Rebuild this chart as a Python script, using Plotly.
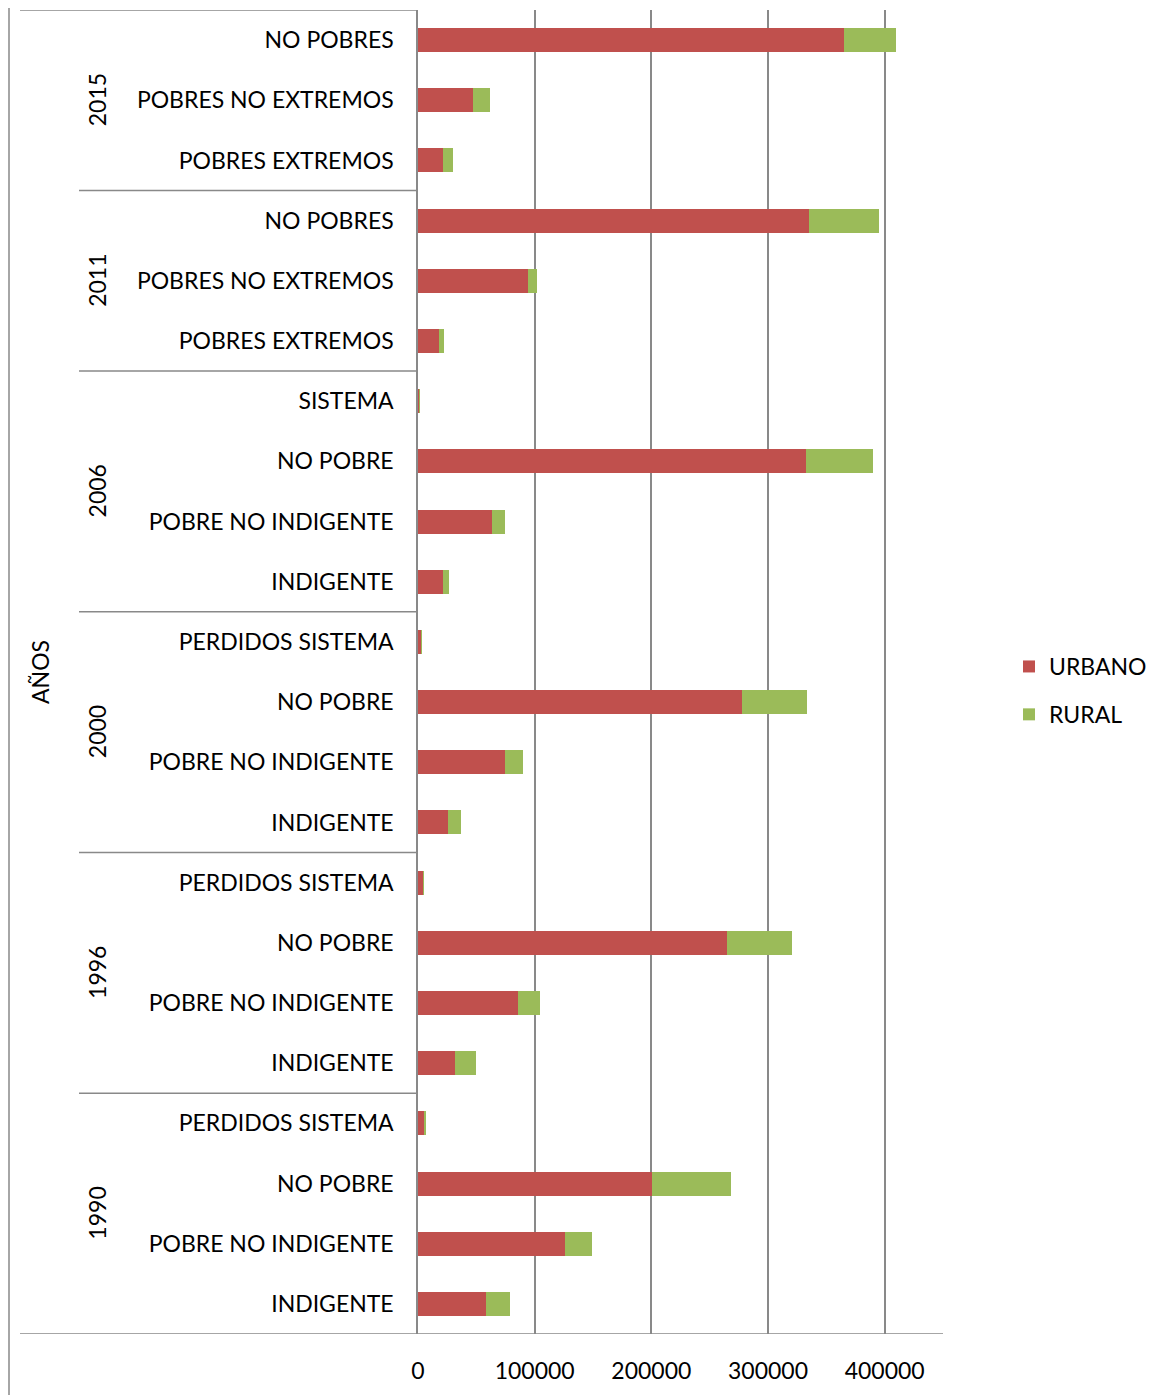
import plotly.graph_objects as go

# Data (bottom to top, as drawn)
years = ["1990", "1996", "2000", "2006", "2011", "2015"]
group_labels = [
    ["INDIGENTE", "POBRE NO INDIGENTE", "NO POBRE", "PERDIDOS SISTEMA"],
    ["INDIGENTE", "POBRE NO INDIGENTE", "NO POBRE", "PERDIDOS SISTEMA"],
    ["INDIGENTE", "POBRE NO INDIGENTE", "NO POBRE", "PERDIDOS SISTEMA"],
    ["INDIGENTE", "POBRE NO INDIGENTE", "NO POBRE", "SISTEMA"],
    ["POBRES EXTREMOS", "POBRES NO EXTREMOS", "NO POBRES"],
    ["POBRES EXTREMOS", "POBRES NO EXTREMOS", "NO POBRES"],
]
urbano = [
    58000, 125900, 200300, 5400,
    31700, 85400, 264900, 4300,
    26000, 74500, 277500, 2700,
    21700, 63700, 332300, 1300,
    18000, 94200, 334900,
    21400, 47100, 364900,
]
rural = [
    20500, 23100, 67700, 1100,
    17700, 19300, 56000, 300,
    10800, 15200, 56300, 300,
    4600, 10800, 57700, 200,
    4300, 7700, 60600,
    8600, 14600, 45100,
]
x_ticks = [0, 100000, 200000, 300000, 400000]
axis_title = "AÑOS"

# layout constants (reference-page pixels; page body has an 8px margin)
OFF = 8
W, H = 1159 - OFF, 1395 - OFF
PL, PR, PT, PB = 418, 943, 10, 1334          # plot box in page pixels
L, T = PL - OFF, PT - OFF
R = W - (PR - OFF)
B = H - (PB - OFF)
pw = PR - PL
ph = PB - PT
def px_x(p):
    return (p - PL) / pw
def px_y(p):
    return (PB - p) / ph

FONT = "Lato"
FS = 23
GRID = "#898989"

labels = [lab for g in group_labels for lab in g]
pos = list(range(len(labels)))

fig = go.Figure()
fig.add_trace(go.Bar(y=pos, x=urbano, orientation="h", name="URBANO",
                     marker=dict(color="#C0504D", line=dict(width=0)),
                     legendgroup="u"))
fig.add_trace(go.Bar(y=pos, x=rural, orientation="h", name="RURAL",
                     marker=dict(color="#9BBB59", line=dict(width=0)),
                     legendgroup="r"))

shapes = []
annotations = []
start = 0
bounds = [-0.5]
for yr, g in zip(years, group_labels):
    end = start + len(g)
    bounds.append(end - 0.5)
    annotations.append(dict(text=yr, x=px_x(97), xref="paper",
                            y=(start + end - 1) / 2, yref="y",
                            textangle=-90, showarrow=False,
                            font=dict(family=FONT, size=FS, color="black"),
                            xanchor="center", yanchor="middle"))
    start = end

for i, b in enumerate(bounds):
    if i == 0 or i == len(bounds) - 1:
        x0 = px_x(20)
    else:
        x0 = px_x(79)
    x1 = 1 if i == 0 else 0
    shapes.append(dict(type="line", xref="paper", yref="y", x0=x0, x1=x1,
                       y0=b, y1=b, line=dict(color=GRID, width=1.5)))

# outer left border
shapes.append(dict(type="line", xref="paper", yref="paper",
                   x0=px_x(9), x1=px_x(9), y0=px_y(1400), y1=px_y(0),
                   line=dict(color=GRID, width=1.5)))

annotations.append(dict(text=axis_title, x=px_x(40), xref="paper",
                        y=px_y(672), yref="paper", textangle=-90, showarrow=False,
                        font=dict(family=FONT, size=FS, color="black"),
                        xanchor="center", yanchor="middle"))

fig.update_layout(
    width=W, height=H,
    margin=dict(l=L, r=R, t=T, b=B, pad=0),
    barmode="stack", bargap=0.6,
    plot_bgcolor="white", paper_bgcolor="white",
    font=dict(family=FONT, size=FS, color="black"),
    shapes=shapes, annotations=annotations,
    legend=dict(x=px_x(1009), y=px_y(645), xanchor="left", yanchor="top",
                traceorder="grouped", tracegroupgap=15,
                font=dict(family=FONT, size=FS, color="black")),
    xaxis=dict(range=[0, 450000], tickvals=x_ticks,
               ticktext=[str(v) for v in x_ticks],
               showgrid=True, gridcolor=GRID, gridwidth=1.5,
               zeroline=False, showline=False, ticks="",
               ticklabelstandoff=21),
    yaxis=dict(range=[-0.5, len(labels) - 0.5], tickvals=pos, ticktext=labels,
               showgrid=False, zeroline=False, showline=True,
               linecolor=GRID, linewidth=1.5, ticks="",
               ticklabelstandoff=18),
)

fig.write_html("out.html")
